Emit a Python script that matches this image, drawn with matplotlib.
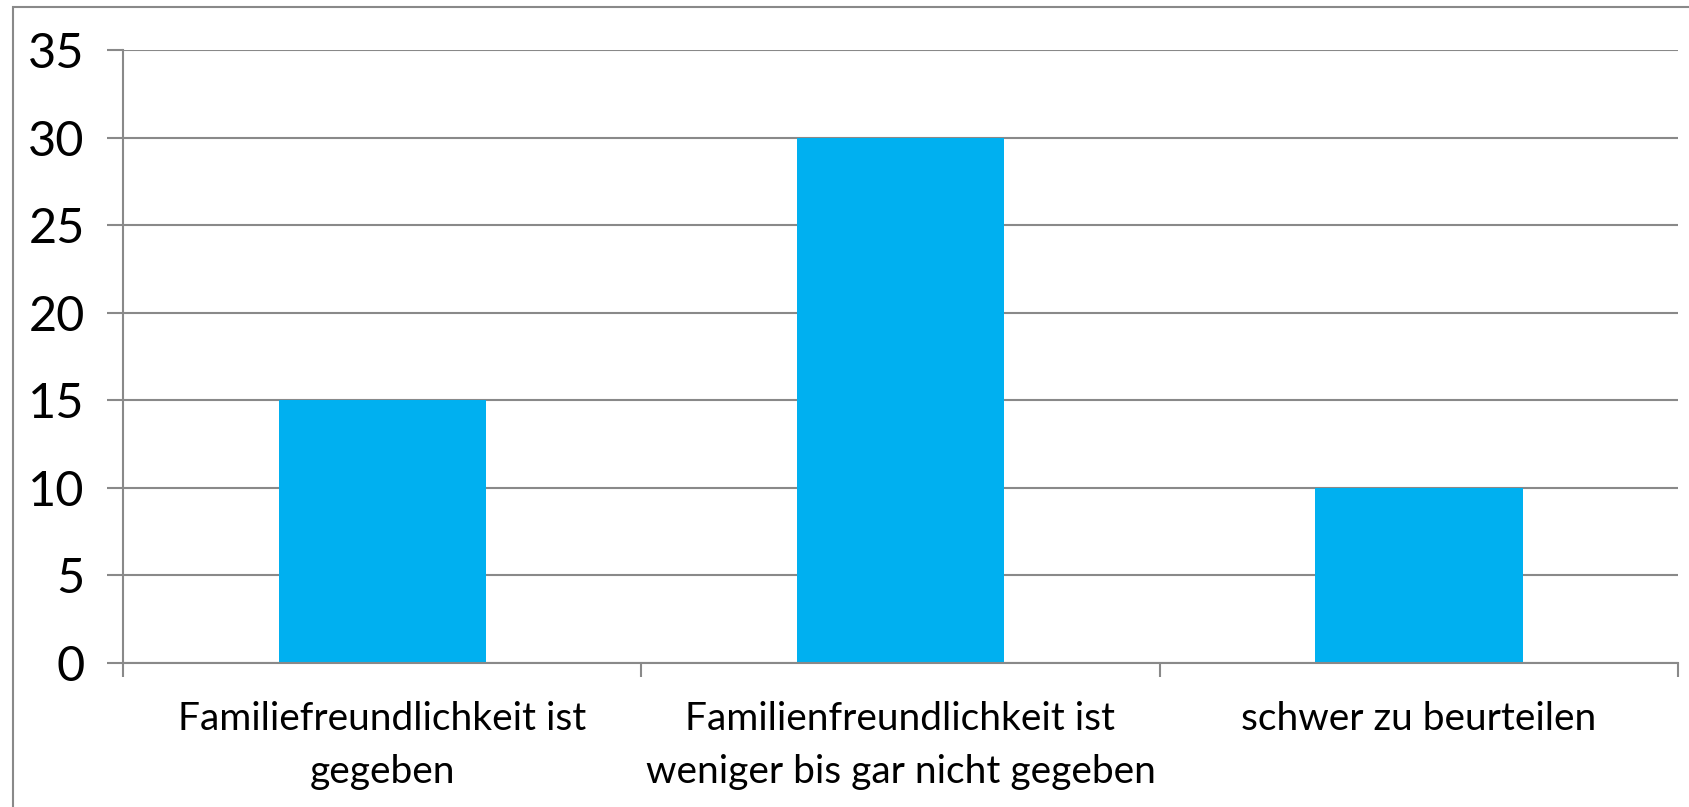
import matplotlib
matplotlib.use("Agg")
import matplotlib.pyplot as plt
from matplotlib.patches import Rectangle
from matplotlib.ticker import FixedLocator

categories = [
    "Familiefreundlichkeit ist\ngegeben",
    "Familienfreundlichkeit ist\nweniger bis gar nicht gegeben",
    "schwer zu beurteilen",
]
values = [15, 30, 10]
y_ticks = [0, 5, 10, 15, 20, 25, 30, 35]

BAR_COL = "#00B0F0"
LINE_COL = "#898989"
W, H = 1690, 807

plt.rcParams["font.family"] = ["Lato", "DejaVu Sans"]

fig = plt.figure(figsize=(W / 100, H / 100), dpi=100, facecolor="white")

# outer chart frame (cut off at right/bottom like the reference)
fig.patches.append(Rectangle((13 / W, -0.1), 1.2, 1.1 - 7 / H, transform=fig.transFigure,
                             fill=False, edgecolor=LINE_COL, linewidth=1.5))

ax = fig.add_axes([123 / W, 1 - 663 / H, (1678 - 123) / W, (663 - 50) / H])
x = list(range(len(categories)))
ax.bar(x, values, width=0.40, color=BAR_COL, zorder=2)

ax.set_xlim(-0.5, len(categories) - 0.5)
ax.set_ylim(0, 35)
ax.set_yticks(y_ticks)
ax.tick_params(axis="y", length=11.5, width=1.5, color=LINE_COL, pad=16, labelsize=35)

ax.xaxis.set_major_locator(FixedLocator([i - 0.5 for i in range(len(categories) + 1)]))
ax.xaxis.set_minor_locator(FixedLocator(x))
ax.set_xticklabels([])
ax.set_xticklabels(categories, minor=True)
ax.tick_params(axis="x", which="major", length=10, width=1.5, color=LINE_COL)
ax.tick_params(axis="x", which="minor", length=0, pad=27, labelsize=28)
for t in ax.get_xticklabels(minor=True):
    t.set_linespacing(1.6)

ax.grid(axis="y", color=LINE_COL, linewidth=1.5, zorder=0)
ax.set_axisbelow(True)
for side in ("top", "right"):
    ax.spines[side].set_visible(False)
for side in ("left", "bottom"):
    ax.spines[side].set_color(LINE_COL)
    ax.spines[side].set_linewidth(1.5)

fig.savefig("out.png", dpi=100, facecolor="white")
